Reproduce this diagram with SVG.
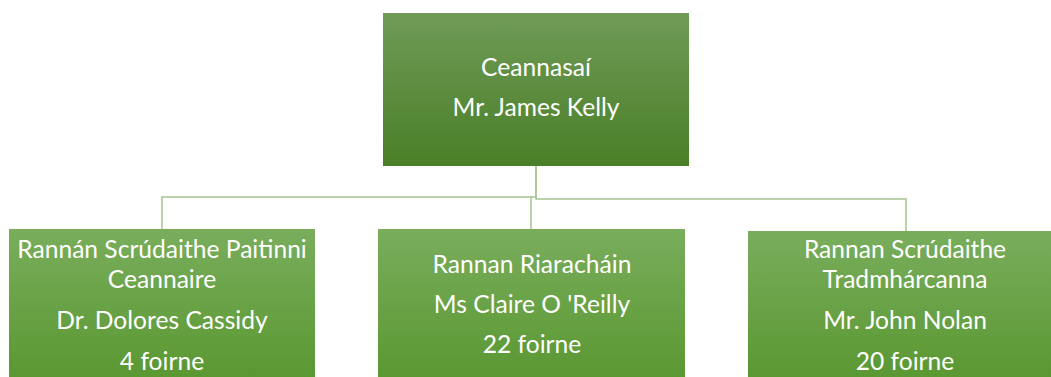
<svg xmlns="http://www.w3.org/2000/svg" width="1051" height="377" viewBox="0 0 1051 377">
<defs>
<linearGradient id="gTop" x1="0" y1="0" x2="0" y2="1">
<stop offset="0" stop-color="#6f9b57"/>
<stop offset="1" stop-color="#4a7f27"/>
</linearGradient>
<linearGradient id="gSub" x1="0" y1="0" x2="0" y2="1">
<stop offset="0" stop-color="#79ad5c"/>
<stop offset="1" stop-color="#5a9832"/>
</linearGradient>
<style>
.t{font-family:Lato,"Open Sans","Liberation Sans",sans-serif;font-size:24.6px;fill:#ffffff;text-anchor:middle}
.c{fill:none;stroke:#a5c592;stroke-width:1.5}
</style>
</defs>
<rect width="1051" height="377" fill="#ffffff"/>
<g id="connectors">
<path class="c" d="M536 166 V197 H162 V229"/>
<path class="c" d="M536 166 V199 H906 V231"/>
<path class="c" d="M531 197 V229"/>
</g>
<g id="ceannasai">
<rect x="383" y="13" width="306" height="153" fill="url(#gTop)"/>
<text class="t" x="536" y="76">Ceannasaí</text>
<text class="t" x="536" y="116">Mr. James Kelly</text>
</g>
<g id="paitinni">
<rect x="9" y="229" width="306" height="150" fill="url(#gSub)"/>
<text class="t" x="162" y="258">Rannán Scrúdaithe Paitinni</text>
<text class="t" x="162" y="288">Ceannaire</text>
<text class="t" x="162" y="329">Dr. Dolores Cassidy</text>
<text class="t" x="162" y="370">4 foirne</text>
</g>
<g id="riarachain">
<rect x="378" y="229" width="307" height="150" fill="url(#gSub)"/>
<text class="t" x="532" y="273">Rannan Riaracháin</text>
<text class="t" x="532" y="313">Ms Claire O 'Reilly</text>
<text class="t" x="532" y="353">22 foirne</text>
</g>
<g id="tradmharcanna">
<rect x="748" y="231" width="306" height="148" fill="url(#gSub)"/>
<text class="t" x="905" y="258">Rannan Scrúdaithe</text>
<text class="t" x="905" y="288">Tradmhárcanna</text>
<text class="t" x="905" y="329">Mr. John Nolan</text>
<text class="t" x="905" y="370">20 foirne</text>
</g>
</svg>
